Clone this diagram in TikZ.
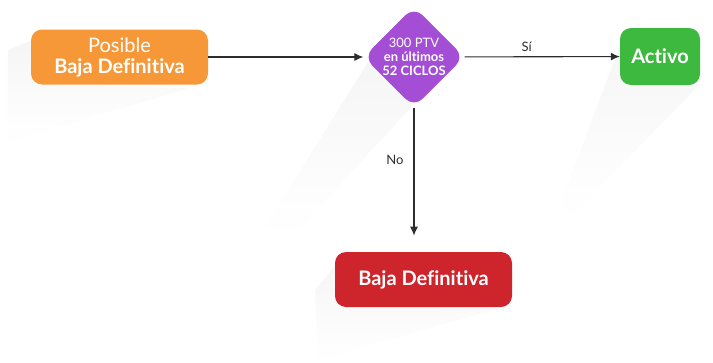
\documentclass[tikz,border=0pt]{standalone}
\usepackage{fontspec}
\setmainfont[Ligatures=NoCommon]{Lato}
\usetikzlibrary{shapes.geometric,arrows.meta,fadings}
\definecolor{naranja}{RGB}{247,152,56}
\definecolor{morado}{RGB}{164,78,214}
\definecolor{verde}{RGB}{62,185,64}
\definecolor{rojo}{RGB}{206,36,43}
\definecolor{linea}{RGB}{45,45,45}
\tikzset{
  caja/.style={rounded corners=11pt, text=white, align=center, inner sep=0pt,
    font=\fontsize{20}{21}\selectfont\bfseries},
  rombo/.style={diamond, rounded corners=12pt, fill=morado, text=white, align=center,
    inner sep=0pt, minimum width=98pt, minimum height=92pt,
    font=\fontsize{13}{14}\selectfont\bfseries},
  sombra/.style={fill=black!50, fill opacity=0.08, path fading=south},
  flecha/.style={draw=linea, line width=1.1pt, -{Latex[length=9pt,width=8pt]}},
  etiqueta/.style={text=linea, font=\fontsize{13}{13}\selectfont}
}
\begin{document}
\begin{tikzpicture}[x=1pt,y=-1pt]
\useasboundingbox (0,0) rectangle (713,362);
% sombras largas
\fill [sombra](33,40) -- (33,85) -- (190,88) -- (8,142) -- (8,50) -- cycle;
\fill [sombra](368,62) -- (415,103) -- (300,228) -- (262,232) -- cycle;
\fill [sombra](622,40) -- (622,85) -- (700,84) -- (572,216) -- (560,205) -- cycle;
\fill [sombra](338,262) -- (338,306) -- (500,308) -- (318,360) -- (315,290) -- cycle;
% cajas
\node [caja, fill=naranja, minimum width=177pt, minimum height=55pt] (posible) at (119.5,57)
  {{\mdseries Posible}\\Baja Definitiva};
\node [rombo] (ciclos) at (414,57) {{\mdseries 300 PTV}\\en últimos\\52 CICLOS};
\node [caja, fill=verde, minimum width=80pt, minimum height=57pt] (activo) at (660,56.5) {Activo};
\node [caja, fill=rojo, minimum width=177pt, minimum height=55pt] (baja) at (423.5,279.5) {Baja Definitiva};
% flechas
\draw [flecha](posible) -- (ciclos);
\draw [flecha](ciclos) -- node [etiqueta, above=1pt, pos=0.4] {Sí} (activo);
\draw [flecha](ciclos.south) -- ++(0,128) coordinate (fin);
\node [etiqueta] (no) at (395,160) {No};
\end{tikzpicture}
\end{document}
